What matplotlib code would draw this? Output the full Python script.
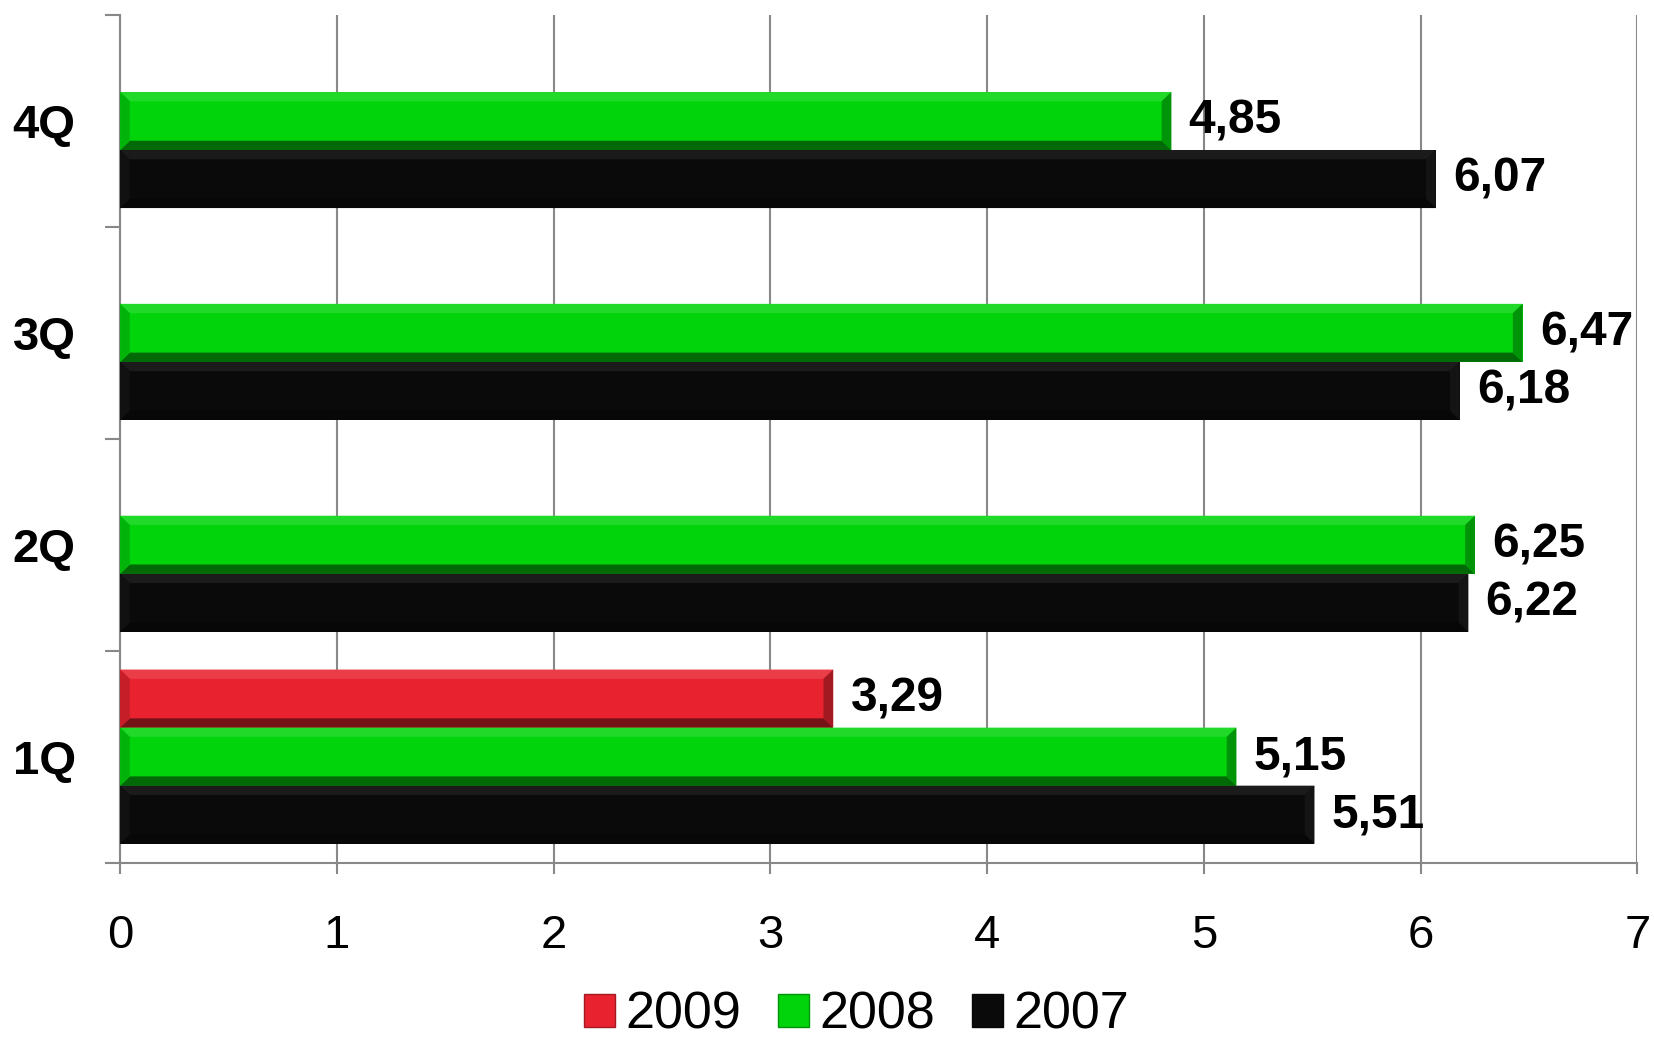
import matplotlib.pyplot as plt
from matplotlib.patches import Polygon, Patch
from matplotlib.colors import to_rgb

plt.rcParams['font.family'] = ['Liberation Sans', 'DejaVu Sans']

quarters = ['1Q', '2Q', '3Q', '4Q']
series = ['2009', '2008', '2007']
values_2009 = [3.29, None, None, None]
values_2008 = [5.15, 6.25, 6.47, 4.85]
values_2007 = [5.51, 6.22, 6.18, 6.07]

colors = {'2009': '#E8232F', '2008': '#02D40C', '2007': '#0A0A0A'}
# bevel shading per series: top, bottom, left, right
bevels = {
    '2009': (0.12, -0.5, -0.15, -0.3),
    '2008': (0.12, -0.5, -0.15, -0.3),
    '2007': (0.07, -0.3, 0.03, 0.04),
}


def shade(color, f):
    r, g, b = to_rgb(color)
    if f >= 0:
        return (r + (1 - r) * f, g + (1 - g) * f, b + (1 - b) * f)
    return (r * (1 + f), g * (1 + f), b * (1 + f))


def bevel_bar(ax, y, w, h, s, bx=0.045, by=0.16):
    # flat bar plus four bevel faces around its edges
    color = colors[s]
    ax.barh(y, w, height=h, color=color, edgecolor='none', zorder=3)
    y0, y1 = y - h / 2, y + h / 2
    dy = h * by
    top, bottom, left, right = bevels[s]
    faces = [
        ([(0, y1), (w, y1), (w - bx, y1 - dy), (bx, y1 - dy)], top),
        ([(0, y0), (w, y0), (w - bx, y0 + dy), (bx, y0 + dy)], bottom),
        ([(0, y0), (0, y1), (bx, y1 - dy), (bx, y0 + dy)], left),
        ([(w, y0), (w, y1), (w - bx, y1 - dy), (w - bx, y0 + dy)], right),
    ]
    for pts, f in faces:
        ax.add_patch(Polygon(pts, closed=True, facecolor=shade(color, f),
                             edgecolor='none', zorder=4))
    ax.text(w + 0.08, y, f'{w:.2f}'.replace('.', ','), ha='left',
            va='center', fontsize=34.5, fontweight='bold', zorder=5)


fig = plt.figure(figsize=(16.54, 10.38), dpi=100)
ax = fig.add_axes([0.0726, 0.169, 0.9174, 0.8165])

h = 1 / 3.65
offsets = {'2009': h, '2008': 0.0, '2007': -h}
data = {'2009': values_2009, '2008': values_2008, '2007': values_2007}
for s in series:
    for i, v in enumerate(data[s]):
        if v is not None:
            bevel_bar(ax, i + offsets[s], v, h, s)

ax.set_xlim(0, 7)
ax.set_ylim(-0.5, 3.5)
ax.set_xticks(range(8))
ax.set_yticks(range(4))
ax.set_yticklabels(quarters, fontsize=34, fontweight='bold')
ax.set_yticks([-0.5, 0.5, 1.5, 2.5, 3.5], minor=True)
ax.tick_params(axis='y', which='major', length=0, pad=32)
ax.tick_params(axis='y', which='minor', length=11, width=1.5,
               color='#888888')
ax.tick_params(axis='x', labelsize=34, length=8, width=1.5,
               color='#888888', pad=29)
ax.grid(axis='x', color='#888888', linewidth=1.5, zorder=0)
ax.set_axisbelow(True)
for side in ['top', 'right']:
    ax.spines[side].set_visible(False)
for side in ['left', 'bottom']:
    ax.spines[side].set_color('#888888')
    ax.spines[side].set_linewidth(1.5)

handles = [Patch(facecolor=colors[s], edgecolor=shade(colors[s], -0.3),
                 label=s) for s in series]
fig.legend(handles=handles, loc='lower center',
           bbox_to_anchor=(0.518, -0.047), ncol=3, frameon=False,
           fontsize=37.5, handlelength=0.6, handleheight=0.6,
           handletextpad=0.2, columnspacing=0.7)

plt.savefig('out.png', dpi=100)
